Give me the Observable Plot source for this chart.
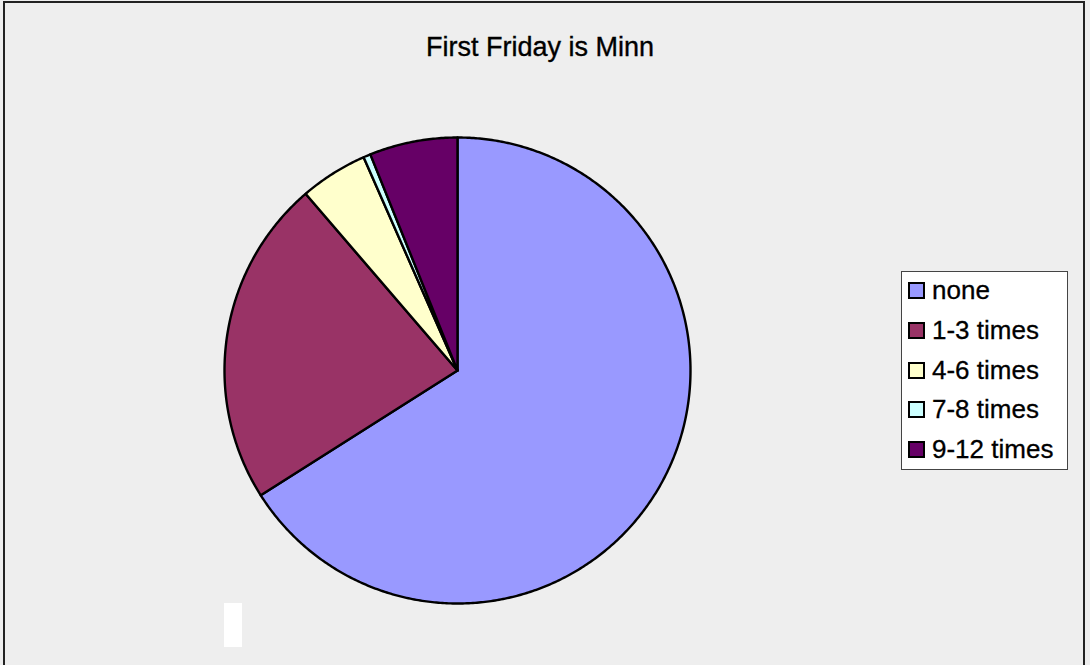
<!DOCTYPE html>
<html>
<head>
<meta charset="utf-8">
<script src="https://cdn.jsdelivr.net/npm/d3@7"></script>
<script src="https://cdn.jsdelivr.net/npm/@observablehq/plot@0.6"></script>
<style>
  html, body { margin: 0; padding: 0; background: #EEEEEE; }
  #wrap { position: relative; width: 1090px; height: 665px; background: #EEEEEE; overflow: hidden; font-family: "Liberation Sans", Arial, sans-serif; }
  #frame { position: absolute; left: 3px; top: 1px; width: 1082px; height: 680px; border: 2px solid #222; box-sizing: border-box; }
  #title { position: absolute; left: 0; width: 1080px; text-align: center; top: 34px; font-size: 27px; line-height: 27px; color: #000; -webkit-text-stroke: 0.35px #000; }
  #chart { position: absolute; left: 0; top: 0; }
  #legend { position: absolute; left: 901px; top: 271px; width: 167px; height: 199px; background: #fff; border: 1px solid #444; box-sizing: border-box; }
  .item { position: absolute; left: 0; height: 30px; }
  .sw { position: absolute; left: 6px; width: 17px; height: 17px; border: 2px solid #000; box-sizing: border-box; }
  .lab { position: absolute; left: 30px; font-size: 26px; line-height: 26px; white-space: nowrap; color: #000; -webkit-text-stroke: 0.3px #000; }
  #blank { position: absolute; left: 224px; top: 603px; width: 18px; height: 44px; background: #fff; }
</style>
</head>
<body>
<div id="wrap">
  <div id="frame"></div>
  <div id="title">First Friday is Minn</div>
  <div id="chart"></div>
  <div id="legend"></div>
  <div id="blank"></div>
</div>
<script>
const categories = ["none", "1-3 times", "4-6 times", "7-8 times", "9-12 times"];
const shares = [66.0, 22.7, 4.7, 0.5, 6.1];
const colors = ["#9999FF", "#993366", "#FFFFCC", "#CCFFFF", "#660066"];

const arcs = d3.pie().sort(null).value(d => d)(shares);
const pts = [];
arcs.forEach((a, i) => {
  const k = categories[i];
  pts.push({k, x: 0, y: 0});
  const n = Math.max(2, Math.ceil((a.endAngle - a.startAngle) / (Math.PI / 360)));
  for (let j = 0; j <= n; j++) {
    const t = a.startAngle + (a.endAngle - a.startAngle) * j / n;
    pts.push({k, x: Math.sin(t), y: Math.cos(t)});
  }
  pts.push({k, x: 0, y: 0});
});

const chart = Plot.plot({
  width: 1090,
  height: 665,
  margin: 0,
  x: {domain: [-1, 1], range: [224, 690], axis: null},
  y: {domain: [-1, 1], range: [603, 137], axis: null},
  color: {domain: categories, range: colors},
  style: {background: "transparent", overflow: "visible"},
  marks: [
    Plot.line(pts, {x: "x", y: "y", z: "k", fill: "k", stroke: "black", strokeWidth: 2.4, strokeLinejoin: "round", curve: "linear"})
  ]
});
document.getElementById("chart").appendChild(chart);

const legend = document.getElementById("legend");
categories.forEach((c, i) => {
  const item = document.createElement("div");
  item.className = "item";
  item.style.top = (5 + i * 39.8) + "px";
  const sw = document.createElement("div");
  sw.className = "sw";
  sw.style.top = "5px";
  sw.style.background = colors[i];
  const lab = document.createElement("div");
  lab.className = "lab";
  lab.style.top = "0px";
  lab.textContent = c;
  item.appendChild(sw);
  item.appendChild(lab);
  legend.appendChild(item);
});
</script>
</body>
</html>
